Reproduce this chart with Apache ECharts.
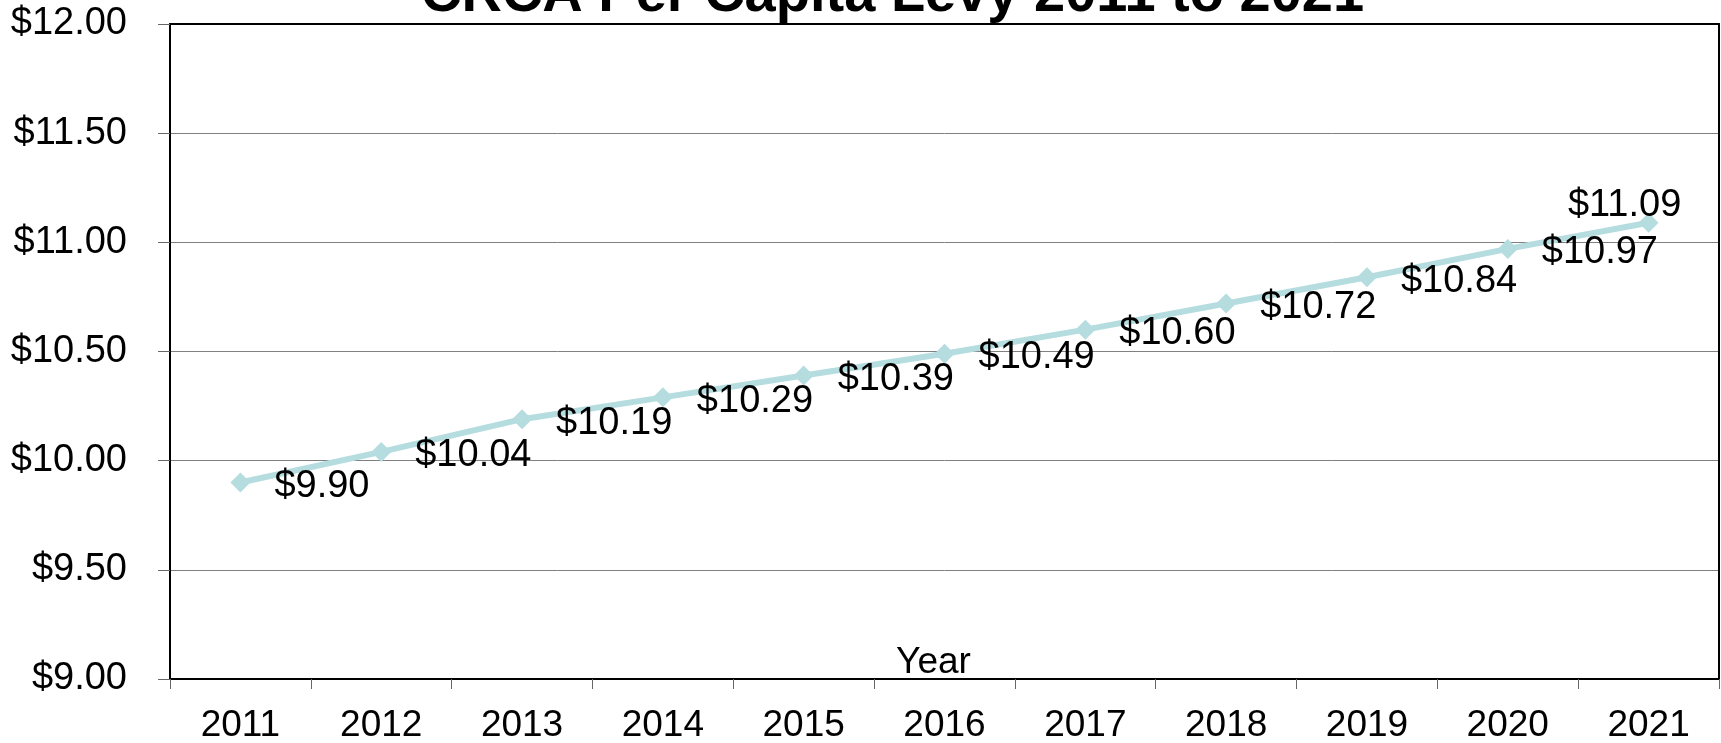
<!DOCTYPE html>
<html>
<head>
<meta charset="utf-8">
<title>CRCA Per Capita Levy 2011 to 2021</title>
<script src="https://cdn.jsdelivr.net/npm/echarts@6/dist/echarts.min.js"></script>
<style>
  html, body { margin: 0; padding: 0; background: #ffffff; }
  #chart { width: 1721px; height: 743px; }
</style>
</head>
<body>
<div id="chart"></div>
<script>
// Per capita levy by year
const years = ['2011', '2012', '2013', '2014', '2015', '2016', '2017', '2018', '2019', '2020', '2021'];
const levy = [9.90, 10.04, 10.19, 10.29, 10.39, 10.49, 10.60, 10.72, 10.84, 10.97, 11.09];

const FONT = 'Liberation Sans, Arial, sans-serif';
const money = v => '$' + Number(v).toFixed(2);

const chart = echarts.init(document.getElementById('chart'), null, { renderer: 'canvas' });

// the final point's label sits above and to the left of its marker
const seriesData = levy.map((v, i) => {
  if (i === levy.length - 1) {
    return { value: v, label: { position: 'top', distance: 0, offset: [-24, 12] } };
  }
  return v;
});

chart.setOption({
  animation: false,
  backgroundColor: '#ffffff',
  title: {
    text: 'CRCA Per Capita Levy 2011 to 2021',
    left: 416,
    top: -37,
    textStyle: { fontFamily: FONT, fontSize: 56, fontWeight: 'bold', color: '#000' }
  },
  grid: { left: 170, right: 2, top: 24, bottom: 64, containLabel: false, outerBoundsMode: 'none' },
  xAxis: [
    {
      type: 'category',
      data: years,
      boundaryGap: true,
      name: 'Year',
      nameLocation: 'middle',
      nameGap: -35,
      nameMoveOverlap: false,
      nameTextStyle: { fontFamily: FONT, fontSize: 37, color: '#000', padding: [0, 22, 0, 0] },
      axisLine: { lineStyle: { color: '#000', width: 2 } },
      axisTick: { show: true, interval: 0, length: 10, lineStyle: { color: '#666', width: 1 } },
      axisLabel: { interval: 0, margin: 28, fontFamily: FONT, fontSize: 37, color: '#000' },
      splitLine: { show: false }
    },
    {
      // top edge of the plot frame
      type: 'category',
      position: 'top',
      data: years,
      axisLine: { lineStyle: { color: '#000', width: 2 } },
      axisTick: { show: false },
      axisLabel: { show: false }
    }
  ],
  yAxis: [
    {
      type: 'value',
      min: 9,
      max: 12,
      interval: 0.5,
      axisLine: { show: true, lineStyle: { color: '#000', width: 2 } },
      axisTick: { show: true, length: 12, lineStyle: { color: '#666', width: 1 } },
      axisLabel: { margin: 43, fontFamily: FONT, fontSize: 38, color: '#000', formatter: money },
      splitLine: { show: true, lineStyle: { color: '#808080', width: 1 } }
    },
    {
      // right edge of the plot frame
      type: 'value',
      position: 'right',
      min: 9,
      max: 12,
      interval: 0.5,
      axisLine: { show: true, lineStyle: { color: '#000', width: 2 } },
      axisTick: { show: false },
      axisLabel: { show: false },
      splitLine: { show: false }
    }
  ],
  series: [
    {
      type: 'line',
      data: seriesData,
      xAxisIndex: 0,
      yAxisIndex: 0,
      symbol: 'diamond',
      symbolSize: 20,
      itemStyle: { color: '#B5DDE0' },
      lineStyle: { color: '#B5DDE0', width: 6 },
      label: {
        show: true,
        position: 'right',
        distance: 24,
        offset: [0, 4],
        fontFamily: FONT,
        fontSize: 38,
        color: '#000',
        formatter: p => money(p.value)
      },
      z: 3
    }
  ]
});
</script>
</body>
</html>
